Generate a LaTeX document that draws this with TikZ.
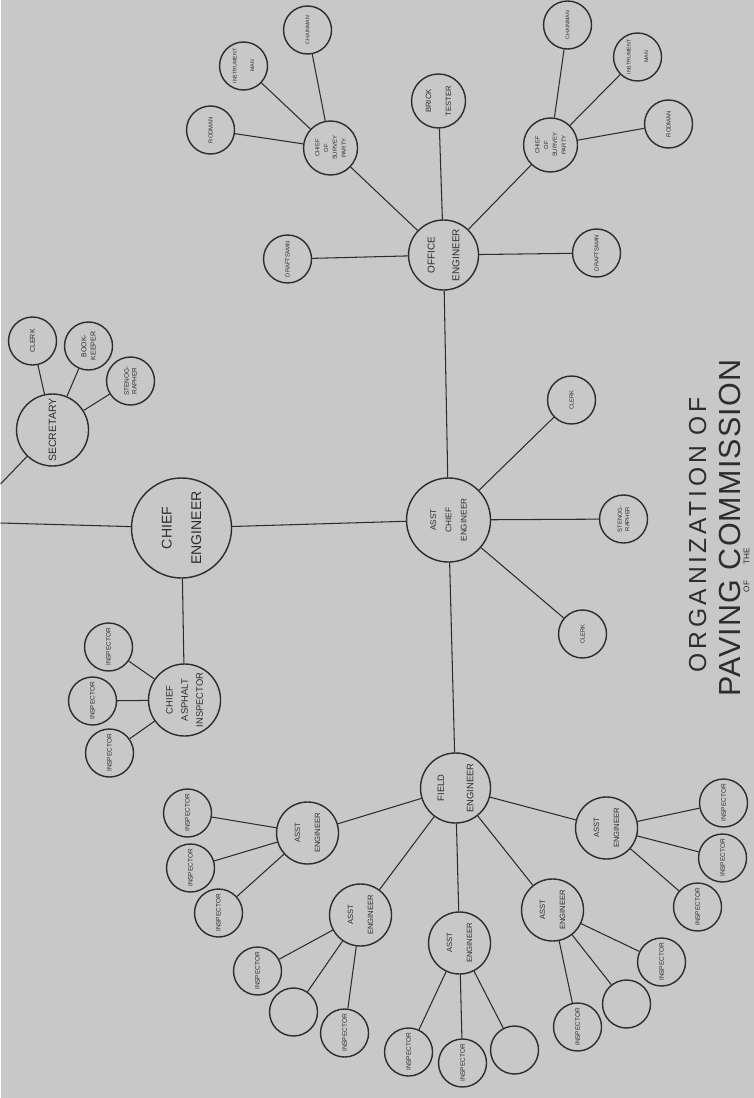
\documentclass[tikz,border=0pt]{standalone}
\usepackage{fontspec}
\setmainfont{Liberation Sans}
\newfontfamily\widefont[LetterSpace=15]{Liberation Sans}
\newfontfamily\titlefont[LetterSpace=4]{Liberation Sans}
\usetikzlibrary{positioning}

\definecolor{paper}{RGB}{200,200,200}
\definecolor{ink}{RGB}{45,45,45}

\begin{document}
\begin{tikzpicture}[
      x=0.03cm, y=-0.03cm,
      post/.style={circle, draw=ink, line width=1.2pt, inner sep=0pt, minimum size=#1, align=center, rotate=90, text=ink},
      post/.default=1.44cm,
      staff/.style={post, font=\fontsize{5.5}{6.5}\selectfont},
      lead/.style={post=1.86cm, font=\fontsize{6.5}{17}\selectfont},
      party/.style={post=1.62cm, font=\fontsize{5}{7.5}\selectfont},
      link/.style={draw=ink, line width=0.9pt}
    ]
    \fill[paper] (0,0) rectangle (753,1098);

    % top of the chart
    \node[post=3cm, font=\fontsize{12}{25}\selectfont] (ce) at (181,528) {CHIEF\\ENGINEER};
    \node[post=2.16cm, font=\fontsize{9}{10}\selectfont] (sec) at (52,430) {SECRETARY};
    \node[staff, font=\fontsize{6}{7}\selectfont] (sclerk) at (32,341) {CLERK};
    \node[staff, font=\fontsize{6}{8}\selectfont] (sbook) at (88,346) {BOOK-\\KEEPER};
    \node[staff] (ssteno) at (130,381) {STENOG-\\RAPHER};
    \coordinate (offce) at (0,523);
    \coordinate (offsec) at (0,484);

    % asphalt inspection
    \node[post=2.16cm, font=\fontsize{8}{13}\selectfont] (cai) at (184,700) {CHIEF\\ASPHALT\\INSPECTOR};
    \node[staff] (ci1) at (108,647) {INSPECTOR};
    \node[staff] (ci2) at (92,701) {INSPECTOR};
    \node[staff] (ci3) at (109,753) {INSPECTOR};

    % assistant chief engineer
    \node[post=2.52cm, font=\fontsize{7}{13}\selectfont] (ace) at (448,520) {ASST\\CHIEF\\ENGINEER};
    \node[staff, font=\fontsize{5}{6}\selectfont] (aclerk1) at (571,400) {CLERK};
    \node[staff, font=\fontsize{5}{6.5}\selectfont] (asteno) at (623,519) {STENOG-\\RAPHER};
    \node[staff, font=\fontsize{5}{6}\selectfont] (aclerk2) at (582,634) {CLERK};

    % office side
    \node[post=2.1cm, font=\fontsize{8.5}{21}\selectfont] (oe) at (443,255) {OFFICE\\ENGINEER};
    \node[post=1.62cm, font=\fontsize{6.5}{17}\selectfont] (brick) at (438,101) {BRICK\\TESTER};
    \node[staff, font=\fontsize{5}{6}\selectfont] (draft1) at (287,259) {DRAFTSMAN};
    \node[staff, font=\fontsize{5}{6}\selectfont] (draft2) at (596,253) {DRAFTSMAN};
    \node[party] (csp1) at (330,148) {CHIEF\\OF\\SURVEY\\PARTY};
    \node[party] (csp2) at (550,145) {CHIEF\\OF\\SURVEY\\PARTY};
    \node[staff, font=\fontsize{5}{6}\selectfont] (rod1) at (210,130) {RODMAN};
    \node[staff, font=\fontsize{4.5}{15}\selectfont] (inst1) at (243,66) {INSTRUMENT\\MAN};
    \node[staff, font=\fontsize{4.5}{6}\selectfont] (chain1) at (307,30) {CHAINMAN};
    \node[staff, font=\fontsize{4.5}{6}\selectfont] (chain2) at (567,25) {CHAINMAN};
    \node[staff, font=\fontsize{4.5}{15}\selectfont] (inst2) at (637,57) {INSTRUMENT\\MAN};
    \node[staff, font=\fontsize{5}{6}\selectfont] (rod2) at (668,124) {RODMAN};

    % field side
    \node[post=2.1cm, font=\fontsize{8}{25}\selectfont] (fe) at (455,788) {FIELD\\ENGINEER};
    \node[lead] (ae1) at (307,833) {ASST\\ENGINEER};
    \node[lead] (ae2) at (360,915) {ASST\\ENGINEER};
    \node[lead] (ae3) at (459,943) {ASST\\ENGINEER};
    \node[lead] (ae4) at (552,910) {ASST\\ENGINEER};
    \node[lead] (ae5) at (606,828) {ASST\\ENGINEER};
    \node[staff] (i11) at (187,813) {INSPECTOR};
    \node[staff] (i12) at (190,868) {INSPECTOR};
    \node[staff] (i13) at (218,913) {INSPECTOR};
    \node[staff] (i21) at (257,971) {INSPECTOR};
    \node[staff] (i22) at (293,1012) {};
    \node[staff] (i23) at (344,1033) {INSPECTOR};
    \node[staff] (i31) at (408,1052) {INSPECTOR};
    \node[staff] (i32) at (462,1063) {INSPECTOR};
    \node[staff] (i33) at (514,1050) {};
    \node[staff] (i41) at (577,1027) {INSPECTOR};
    \node[staff] (i42) at (626,1004) {};
    \node[staff] (i43) at (661,962) {INSPECTOR};
    \node[staff] (i51) at (723,803) {INSPECTOR};
    \node[staff] (i52) at (722,858) {INSPECTOR};
    \node[staff] (i53) at (697,907) {INSPECTOR};

    % title
    \node[rotate=90, text=ink, font=\widefont\fontsize{21}{21}\selectfont] (title1) at (697,535) {ORGANIZATION OF};
    \node[rotate=90, text=ink, font=\titlefont\fontsize{26}{26}\selectfont] (title2) at (729,528) {PAVING COMMISSION};
    \node[rotate=90, text=ink, font=\fontsize{7}{7}\selectfont] (title3) at (746,570) {OF\hspace{2em}THE};

    \draw[link] (offce) -- (ce);
    \draw[link] (offsec) -- (sec);
    \draw[link] (sec) -- (sclerk) (sec) -- (sbook) (sec) -- (ssteno);
    \draw[link] (ce) -- (ace);
    \draw[link] (ce) -- (cai);
    \draw[link] (cai) -- (ci1) (cai) -- (ci2) (cai) -- (ci3);
    \draw[link] (ace) -- (oe);
    \draw[link] (ace) -- (fe);
    \draw[link] (ace) -- (aclerk1) (ace) -- (asteno) (ace) -- (aclerk2);
    \draw[link] (oe) -- (draft1) (oe) -- (csp1) (oe) -- (brick) (oe) -- (csp2) (oe) -- (draft2);
    \draw[link] (csp1) -- (rod1) (csp1) -- (inst1) (csp1) -- (chain1);
    \draw[link] (csp2) -- (chain2) (csp2) -- (inst2) (csp2) -- (rod2);
    \draw[link] (fe) -- (ae1) (fe) -- (ae2) (fe) -- (ae3) (fe) -- (ae4) (fe) -- (ae5);
    \draw[link] (ae1) -- (i11) (ae1) -- (i12) (ae1) -- (i13);
    \draw[link] (ae2) -- (i21) (ae2) -- (i22) (ae2) -- (i23);
    \draw[link] (ae3) -- (i31) (ae3) -- (i32) (ae3) -- (i33);
    \draw[link] (ae4) -- (i41) (ae4) -- (i42) (ae4) -- (i43);
    \draw[link] (ae5) -- (i51) (ae5) -- (i52) (ae5) -- (i53);
  \end{tikzpicture}
\end{document}
